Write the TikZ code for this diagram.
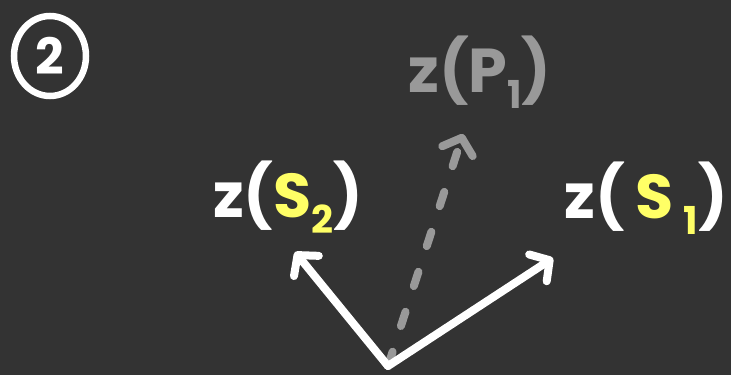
\documentclass[tikz,border=0pt]{standalone}
\usepackage{fontspec}
\setmainfont{Poppins}
\usepackage{tikz}
\usetikzlibrary{arrows.meta, shapes.geometric}
\definecolor{boardbg}{HTML}{333333}
\definecolor{chalkwhite}{HTML}{FFFFFF}
\definecolor{chalkgray}{HTML}{999999}
\definecolor{chalkyellow}{HTML}{FFFF66}
\newcommand{\lowidx}[1]{\raisebox{-0.25em}{\scalebox{0.62}{#1}}}
\tikzset{
  veclabel/.style={
    text=chalkwhite, inner sep=0pt, font=\fontsize{62}{68}\selectfont\bfseries
  },
  ghostlabel/.style={veclabel, text=chalkgray},
  vecarrow/.style={
    -{Straight Barb[length=14pt, width=32pt, round]},
    line width=8pt, draw=chalkwhite, line cap=round
  },
  ghostarrow/.style={
    vecarrow, draw=chalkgray, dash pattern=on 15pt off 27pt
  },
  stepmark/.style={
    ellipse, draw=chalkwhite, line width=6.5pt, text=chalkwhite,
    minimum width=72pt, minimum height=80pt, inner sep=0pt,
    font=\fontsize{50}{54}\selectfont\bfseries
  }
}
\begin{document}
\begin{tikzpicture}[x=1pt, y=-1pt]
  % board
  \fill[boardbg] (0,0) rectangle (731,375);
  \useasboundingbox (0,0) rectangle (731,375);

  \node[stepmark] (step) at (50,56) {2};

  % labels
  \node[ghostlabel] (p1) at (480,72) {z(P\lowidx{1})};
  \node[veclabel] (s2) at (288,197)
    {z(\textcolor{chalkyellow}{S\lowidx{2}})};
  \node[veclabel] (s1) at (646,198)
    {z(\,\textcolor{chalkyellow}{S\,\lowidx{1}})};

  % vectors
  \coordinate (o) at (388,366);
  \coordinate (s2tip) at (295,252);
  \coordinate (s1tip) at (553,258);
  \coordinate (p1tip) at (463,134);
  \draw[ghostarrow] (o) -- (p1tip);
  \draw[vecarrow] (o) -- (s2tip);
  \draw[vecarrow] (o) -- (s1tip);
\end{tikzpicture}
\end{document}
